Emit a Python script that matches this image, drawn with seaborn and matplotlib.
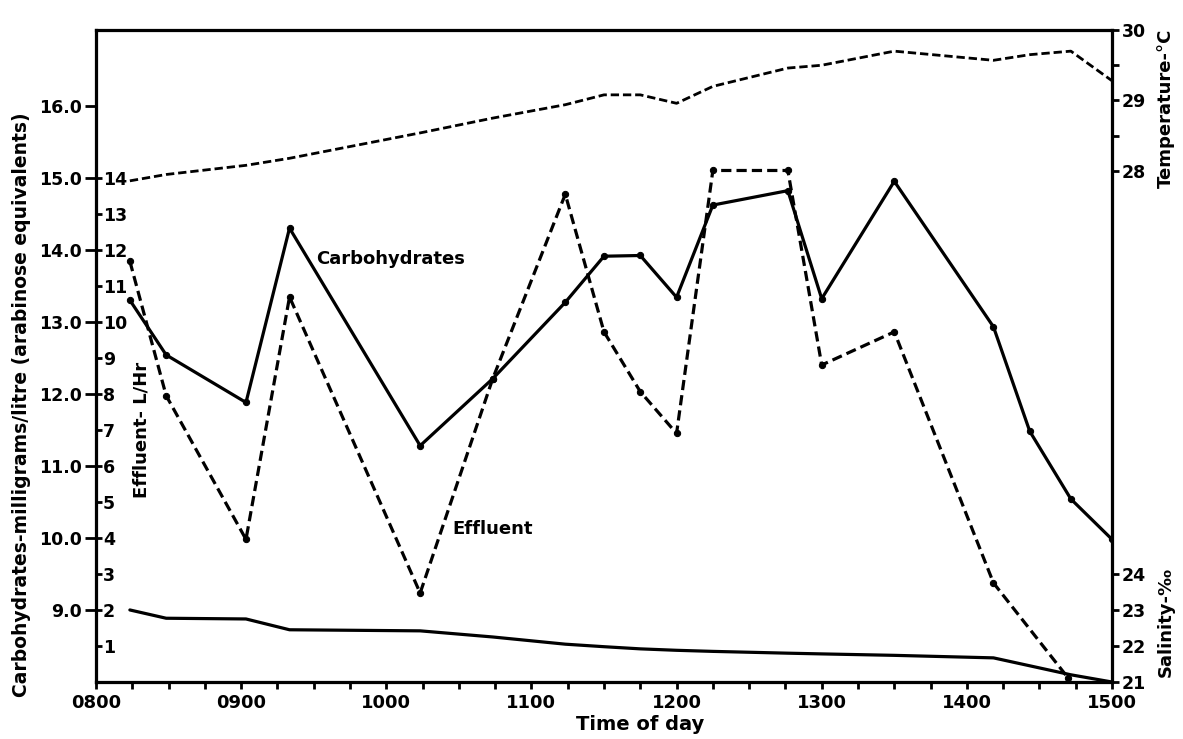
import matplotlib
matplotlib.use("Agg")
import numpy as np
import pandas as pd
import seaborn as sns
from matplotlib import pyplot as plt
from matplotlib.ticker import FixedLocator, FuncFormatter, NullFormatter

# sampling times (hhmm)
times = ["0814", "0829", "0902", "0920", "1014", "1044", "1114", "1130", "1145",
         "1200", "1215", "1246", "1300", "1330", "1411", "1426", "1443", "1500"]
carbohydrates = [13.30, 12.54, 11.88, 14.30, 11.28, 12.21, 13.27, 13.91, 13.92,
                 13.34, 14.62, 14.82, 13.32, 14.95, 12.93, 11.48, 10.54, 9.98]
temperature = [27.86, 27.95, 28.08, 28.18, 28.54, 28.75, 28.94, 29.08, 29.08,
               28.96, 29.20, 29.46, 29.50, 29.70, 29.57, 29.65, 29.70, 29.28]
salinity = [23.00, 22.77, 22.75, 22.45, 22.42, 22.25, 22.05, 21.98, 21.92,
            21.88, 21.85, 21.80, 21.78, 21.74, 21.67, 21.45, 21.20, 21.00]

effluent_times = ["0814", "0829", "0902", "0920", "1014", "1044", "1114", "1130",
                  "1145", "1200", "1215", "1246", "1300", "1330", "1411", "1442"]
effluent = [11.68, 7.95, 3.96, 10.69, 2.47, 8.42, 13.54, 9.72,
            8.06, 6.90, 14.20, 14.20, 8.80, 9.72, 2.75, 0.10]

hour_labels = ["0800", "0900", "1000", "1100", "1200", "1300", "1400", "1500"]


def to_hours(hhmm):
    return int(hhmm[:2]) + int(hhmm[2:]) / 60


sns.set_theme(style="white")
plt.rcParams['font.family'] = ['DejaVu Sans']
plt.rcParams['font.weight'] = 'bold'
plt.rcParams['axes.linewidth'] = 2.2
plt.rcParams['text.color'] = 'black'
plt.rcParams['axes.labelcolor'] = 'black'

W, H = 1183, 739
fig = plt.figure(figsize=(W / 100, H / 100), dpi=100)
ax = fig.add_axes([96 / W, 57 / H, 1016 / W, 652 / H])
ax_e = ax.twinx()
ax_t = ax.twinx()
ax_s = ax.twinx()

df = pd.DataFrame({
    'hour': [to_hours(t) for t in times],
    'carb': carbohydrates,
    'temp': temperature,
    'sal': salinity,
})
df_e = pd.DataFrame({'hour': [to_hours(t) for t in effluent_times], 'eff': effluent})

lw = 2.3
sns.lineplot(data=df, x='hour', y='carb', ax=ax, color='black', linewidth=lw,
             marker='o', markersize=4.5, markerfacecolor='black', markeredgecolor='black',
             estimator=None, sort=False)
sns.lineplot(data=df_e, x='hour', y='eff', ax=ax_e, color='black', linewidth=lw,
             linestyle=(0, (3.2, 1.6)), marker='o', markersize=4.5,
             markerfacecolor='black', markeredgecolor='black',
             estimator=None, sort=False)
sns.lineplot(data=df, x='hour', y='temp', ax=ax_t, color='black', linewidth=2.0,
             linestyle=(0, (3.0, 1.4)), estimator=None, sort=False)
sns.lineplot(data=df, x='hour', y='sal', ax=ax_s, color='black', linewidth=lw,
             estimator=None, sort=False)

# x axis
ax.set_xlim(8, 15)
ax.xaxis.set_major_locator(FixedLocator(range(8, 16)))
ax.xaxis.set_minor_locator(FixedLocator(np.arange(8, 15.01, 0.25)))
ax.set_xticklabels(hour_labels)
ax.tick_params(axis='x', which='both', direction='out', length=5, width=2,
               bottom=True, labelsize=13, pad=4, colors='black')

# carbohydrates (left, outer)
ax.set_ylim(8.0, 17.05)
ax.yaxis.set_major_locator(FixedLocator(range(9, 17)))
ax.yaxis.set_major_formatter(FuncFormatter(lambda v, p: f'{v:.1f}'))
ax.tick_params(axis='y', which='major', direction='out', length=8, width=2,
               left=True, labelsize=12.5, pad=2, colors='black')
ax.set_xlabel('')
ax.set_ylabel('')

# effluent (left, inner)
ax_e.set_ylim(0.0, 18.1)
ax_e.yaxis.set_ticks_position('left')
ax_e.yaxis.set_major_locator(FixedLocator(range(1, 15)))
ax_e.tick_params(axis='y', which='major', direction='in', length=4, width=2,
                 left=True, right=False, labelleft=True, labelright=False,
                 labelsize=12.5, pad=-5, colors='black')
plt.setp(ax_e.get_yticklabels(), ha='left')
ax_e.set_ylabel('')
ax_e.set_xlabel('')

# temperature (right, top part)
ax_t.set_ylim(20.75, 30.0)
ax_t.yaxis.set_major_locator(FixedLocator([28, 29, 30]))
ax_t.yaxis.set_minor_locator(FixedLocator([28.5, 29.5]))
ax_t.yaxis.set_minor_formatter(NullFormatter())
ax_t.tick_params(axis='y', which='both', direction='out', length=5, width=2,
                 right=True, labelsize=12.5, pad=2, colors='black')
ax_t.set_ylabel('')
ax_t.set_xlabel('')

# salinity (right, bottom part)
ax_s.set_ylim(21.0, 39.1)
ax_s.yaxis.set_major_locator(FixedLocator([21, 22, 23, 24]))
ax_s.tick_params(axis='y', which='major', direction='out', length=5, width=2,
                 right=True, labelsize=12.5, pad=2, colors='black')
ax_s.set_ylabel('')
ax_s.set_xlabel('')

for a in (ax, ax_e, ax_t, ax_s):
    for sp in a.spines.values():
        sp.set_color('black')
        sp.set_linewidth(2.2)

# curve annotations
ax.text(9.52, 13.87, 'Carbohydrates', fontsize=13, fontweight='bold', va='center',
        color='black')
ax.text(10.455, 10.13, 'Effluent', fontsize=13, fontweight='bold', va='center',
        color='black')
ax.text((142 - 96) / 1016, (682 - 430) / 652, 'Effluent- L/Hr', transform=ax.transAxes,
        rotation=90, ha='center', va='center', fontsize=13, fontweight='bold',
        color='black')

# axis titles
fig.text(22 / W, 1 - 405 / H, 'Carbohydrates-milligrams/litre (arabinose equivalents)',
         rotation=90, ha='center', va='center', fontsize=13.5, fontweight='bold',
         color='black')
fig.text(640 / W, 1 - 725 / H, 'Time of day', ha='center', va='center',
         fontsize=14, fontweight='bold', color='black')
fig.text(1166 / W, 1 - 108 / H, 'Temperature-°C', rotation=90, ha='center',
         va='center', fontsize=13, fontweight='bold', color='black')
fig.text(1166 / W, 1 - 622 / H, 'Salinity-‰', rotation=90, ha='center',
         va='center', fontsize=13, fontweight='bold', color='black')

fig.savefig('out.png', dpi=100, facecolor='white')
